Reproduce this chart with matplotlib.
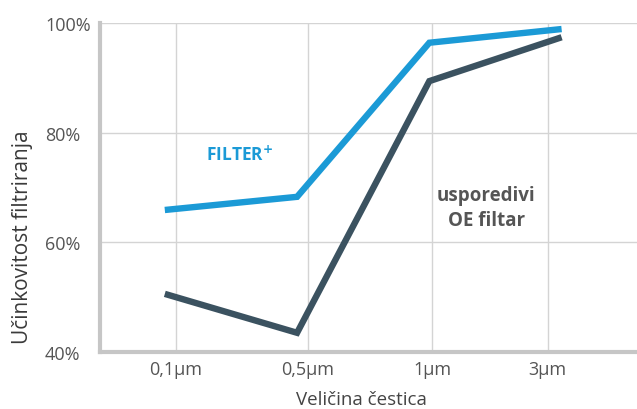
import matplotlib
matplotlib.use("Agg")
import matplotlib.pyplot as plt

categories = ["0,1µm", "0,5µm", "1µm", "3µm"]
filter_plus = [65.9, 68.3, 96.4, 98.9]
oe_filter = [50.6, 43.5, 89.4, 97.4]
y_ticks = [40, 60, 80, 100]
y_tick_labels = ["40%", "60%", "80%", "100%"]

# layout: tick/grid positions (slightly offset from line points, as in reference)
tick_pos = [0.083, 1.08, 2.02, 2.895]

plt.rcParams['font.family'] = ['Open Sans', 'DejaVu Sans']

fig = plt.figure(figsize=(6.37, 4.10), dpi=100)
ax = fig.add_axes([100/637, 1-353/410, 537/637, 329/410])

x = list(range(len(categories)))
ax.plot(x, filter_plus, color="#1b9ad6", lw=4.6, solid_joinstyle='miter', solid_capstyle='butt', zorder=3)
ax.plot(x, oe_filter, color="#3b5260", lw=4.6, solid_joinstyle='miter', solid_capstyle='butt', zorder=3)

ax.set_xlim(-0.49, 3.57)
ax.set_ylim(40, 100)

ax.set_xticks(tick_pos)
ax.set_xticklabels(categories, fontsize=13, color="#555555")
ax.set_yticks(y_ticks)
ax.set_yticklabels(y_tick_labels, fontsize=13, color="#555555")
for lab in ax.get_yticklabels():
    lab.set_horizontalalignment('left')
ax.tick_params(axis='y', length=0, pad=39.6)
ax.tick_params(axis='x', length=0, pad=6)

ax.grid(True, color="#d4d4d4", lw=1.0)
ax.set_axisbelow(True)
for s in ['top', 'right']:
    ax.spines[s].set_visible(False)
for s in ['left', 'bottom']:
    ax.spines[s].set_color("#c6c6c6")
    ax.spines[s].set_linewidth(3)

ax.set_ylabel("Učinkovitost filtriranja", fontsize=15, color="#3a3a3a")
ax.yaxis.set_label_coords(-0.125, 0.353)
ax.set_xlabel("Veličina čestica", fontsize=13.5, color="#444444")
ax.xaxis.set_label_coords(0.486, -0.115)

ax.text(0.567, 76.1, r"FILTER$^{\mathbf{+}}$", color="#1b9ad6", fontsize=12.5, fontweight='bold',
        ha='center', va='center')
ax.text(2.43, 66.3, "usporedivi\nOE filtar", color="#555555", fontsize=13.5, fontweight='bold',
        ha='center', va='center', linespacing=1.35)

fig.savefig("out.png", dpi=100)
